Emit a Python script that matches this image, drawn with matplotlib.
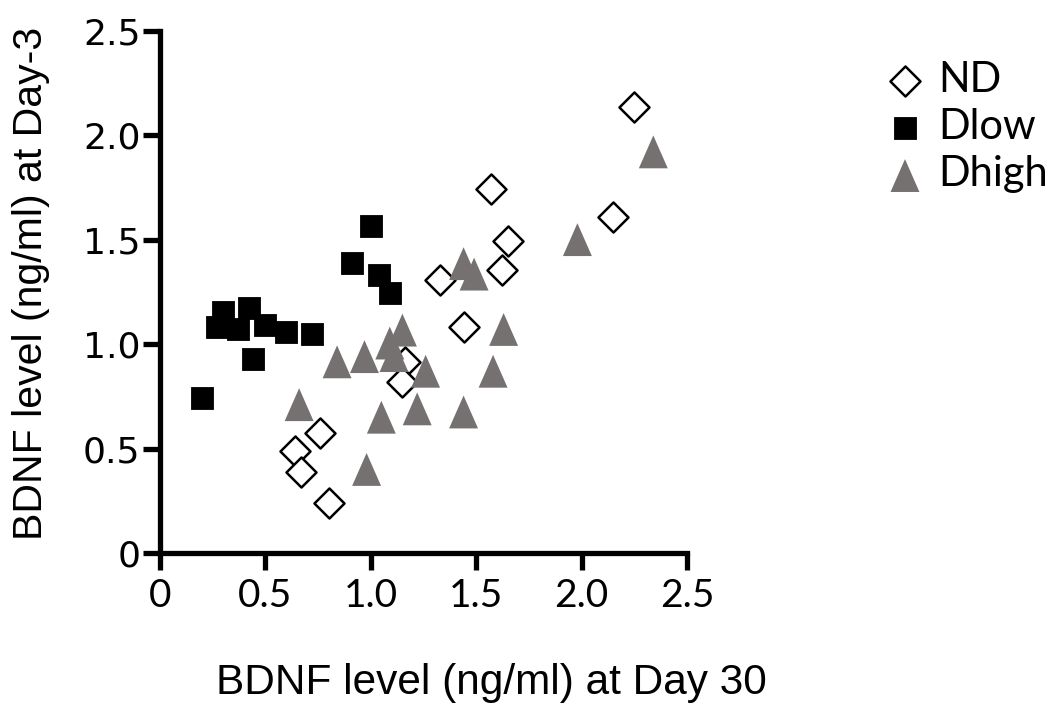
"""Scatter of BDNF level at Day-3 vs Day 30 for ND / Dlow / Dhigh groups."""

import matplotlib
matplotlib.use("Agg")
import matplotlib.pyplot as plt

# ND (open diamonds)
nd_x = [2.25, 1.57, 2.15, 1.65, 1.62, 1.33, 1.44, 1.16, 1.15, 0.76, 0.64, 0.67, 0.80]
nd_y = [2.135, 1.74, 1.61, 1.495, 1.355, 1.305, 1.08, 0.915, 0.82, 0.575, 0.49, 0.39, 0.24]

# Dlow (black squares)
dlow_x = [1.00, 0.91, 1.04, 1.09, 0.30, 0.42, 0.27, 0.37, 0.50, 0.60, 0.72, 0.44, 0.20]
dlow_y = [1.565, 1.39, 1.33, 1.245, 1.155, 1.175, 1.08, 1.07, 1.09, 1.06, 1.05, 0.93, 0.74]

# Dhigh (grey triangles)
dhigh_x = [0.66, 0.84, 0.97, 0.98, 1.05, 1.09, 1.11, 1.15, 1.22, 1.26,
           1.44, 1.44, 1.49, 1.58, 1.63, 1.98, 2.34]
dhigh_y = [0.71, 0.915, 0.94, 0.40, 0.65, 1.005, 0.945, 1.067, 0.69, 0.87,
           0.675, 1.385, 1.335, 0.87, 1.07, 1.50, 1.92]

ticks = [0, 0.5, 1.0, 1.5, 2.0, 2.5]
tick_labels = ["0", "0.5", "1.0", "1.5", "2.0", "2.5"]

GREY = "#767171"
TRIANGLE = [(-0.88, -1), (0.88, -1), (0, 1)]


def main():
    fig = plt.figure(figsize=(10.56, 7.06), dpi=100)
    ax = fig.add_axes([0.1515, 0.2167, 0.4991, 0.7398])

    ax.scatter(nd_x, nd_y, marker="D", s=234, facecolor="white",
               edgecolor="black", linewidths=1.8, zorder=2, label="ND")
    ax.scatter(dlow_x, dlow_y, marker="s", s=250, facecolor="black",
               edgecolor="black", linewidths=0.6, zorder=3, label="Dlow")
    ax.scatter(dhigh_x, dhigh_y, marker=TRIANGLE, s=560, facecolor=GREY,
               edgecolor="none", zorder=4, label="Dhigh")

    ax.set_xlim(0, 2.5)
    ax.set_ylim(0, 2.5)

    for side in ("top", "right"):
        ax.spines[side].set_visible(False)
    for side in ("left", "bottom"):
        ax.spines[side].set_linewidth(3.8)
        ax.spines[side].set_capstyle("projecting")

    ax.set_xticks(ticks)
    ax.set_xticklabels(tick_labels, fontfamily="Lato", fontsize=28)
    ax.set_yticks(ticks)
    ax.set_yticklabels(tick_labels, fontfamily="DejaVu Sans", fontsize=26)
    ax.tick_params(axis="both", length=12, width=3.8)
    ax.tick_params(axis="x", pad=6)
    ax.tick_params(axis="y", pad=2)

    fig.text(0.465, 0.032, "BDNF level (ng/ml) at Day 30", ha="center", va="center",
             fontfamily="Liberation Sans", fontsize=30.5)
    fig.text(0.029, 0.598, "BDNF level (ng/ml) at Day-3", ha="center", va="center",
             rotation=90, fontfamily="Liberation Sans", fontsize=29.5)

    ax.legend(loc="upper left", bbox_to_anchor=(867.5 / 1056, 0.937),
              bbox_transform=fig.transFigure, frameon=False,
              prop={"family": "Lato", "size": 30}, handlelength=1.0,
              handletextpad=0.29, labelspacing=0.22, borderpad=0.4,
              borderaxespad=0, scatterpoints=1)

    fig.savefig("out.png", dpi=100)


if __name__ == "__main__":
    main()
